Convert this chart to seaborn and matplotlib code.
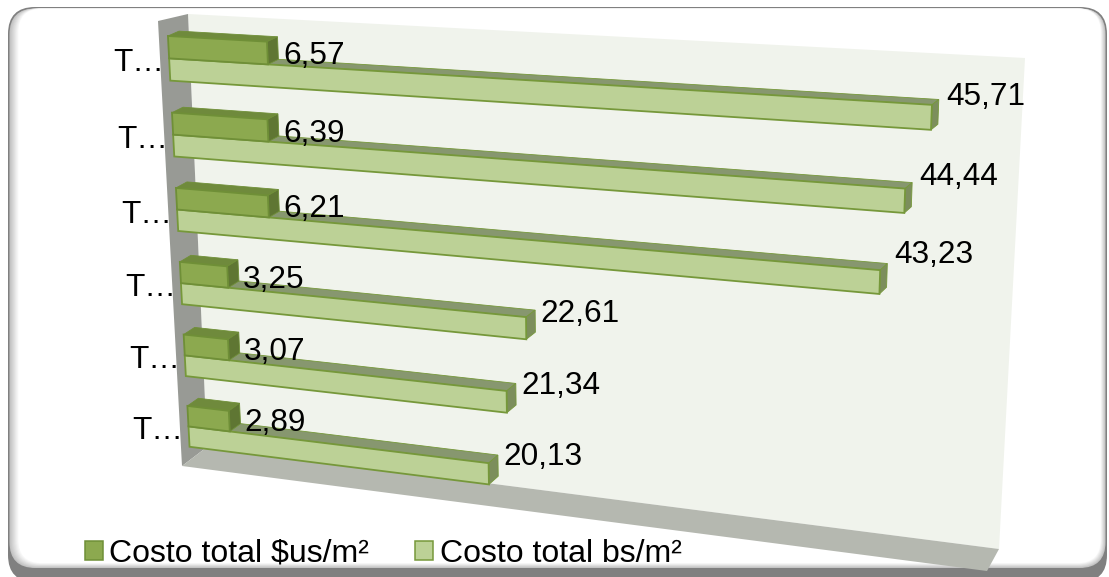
"""
3D style horizontal bars: seaborn draws the bars, a perspective transform
bends them onto the tilted chart plane.
"""
import numpy as np
import pandas as pd
import matplotlib
matplotlib.use("Agg")
import matplotlib.pyplot as plt
import seaborn as sns
from matplotlib.patches import FancyBboxPatch, Polygon
from matplotlib.transforms import IdentityTransform, Transform

W, H = 1109, 577

# -------------------------------------------------------------------------
# Data
TICK_LABELS = ["T…", "T…", "T…", "T…", "T…", "T…"]
ROWS = [0, 1, 2, 3, 4, 5]
COSTO_US = [6.57, 6.39, 6.21, 3.25, 3.07, 2.89]
COSTO_BS = [45.71, 44.44, 43.23, 22.61, 21.34, 20.13]
SERIES = ["Costo total $us/m²", "Costo total bs/m²"]

df = pd.DataFrame({
    "row": ROWS * 2,
    "valor": COSTO_US + COSTO_BS,
    "serie": [SERIES[0]] * 6 + [SERIES[1]] * 6,
})

# face, top, end, edge
COLORS = {
    SERIES[0]: ("#8CA94F", "#6F8A3C", "#5F7633", "#6F8F37"),
    SERIES[1]: ("#BCD196", "#87976F", "#7C8E5C", "#76983A"),
}

# the value labels of the light bars do not sit at a fixed distance
LIGHT_DY = [0, 4, 7, -5, -3, -2]


# -------------------------------------------------------------------------
# Perspective from (value, row) to pixels
def px(x, y):
    return (x, H - y)


def homography(src, dst):
    # least squares fit, more reference points than needed
    A, b = [], []
    for (u, v), (x, y) in zip(src, dst):
        A.append([u, v, 1, 0, 0, 0, -u * x, -v * x])
        A.append([0, 0, 0, u, v, 1, -u * y, -v * y])
        b += [x, y]
    sol = np.linalg.lstsq(np.array(A, float), np.array(b, float), rcond=None)[0]
    return np.append(sol, 1).reshape(3, 3)


class Persp(Transform):
    input_dims = 2
    output_dims = 2
    is_separable = False

    def __init__(self, M):
        super().__init__()
        self.M = M

    def transform_non_affine(self, values):
        v = np.asarray(values, float)
        q = np.c_[v, np.ones(len(v))] @ self.M.T
        return q[:, :2] / q[:, 2:]


# where the line between the two bars of each row falls in the picture
CAL_PIXELS = [
    (169, 59), (268, 63), (932, 105),
    (173, 136), (268, 140), (905, 189),
    (177, 211), (268, 217), (880, 270),
    (182, 284), (229, 287), (527, 317),
    (185, 356), (229, 358), (506, 392),
    (188, 427), (229, 431), (489, 463),
]
cal_src = []
for i in ROWS:
    cal_src += [(0, i), (COSTO_US[i], i), (COSTO_BS[i], i)]
plane = Persp(homography(cal_src, [px(*p) for p in CAL_PIXELS]))


def back(p):
    # depth offset of the bars, shrinks to the right and grows downwards
    p = np.asarray(p, float)
    y_img = H - p[:, 1]
    dx = 12 - 0.0055 * p[:, 0]
    dy = 4.6 + 0.0075 * y_img
    return p + np.c_[dx, dy]


# -------------------------------------------------------------------------
fig = plt.figure(figsize=(W / 100, H / 100), dpi=100, facecolor="white")
plt.rcParams["font.family"] = ["Liberation Sans", "DejaVu Sans"]
ax = fig.add_axes([0, 0, 1, 1])

# Frame, nested round boxes make the soft inner shadow
ax.add_patch(FancyBboxPatch(
    px(8, 582), 1099, 575, boxstyle="round,pad=0,rounding_size=27",
    transform=IdentityTransform(), fc="#808080", lw=0, clip_on=False, zorder=0,
))
n = 9
for k in range(n):
    t = k / (n - 1)
    g = 0.76 + 0.24 * t
    x0, x1 = 9.5 + k * 1.1, 1105.5 - k * 0.6
    y0, y1 = 8.5 + k * 0.02, 568 - k * 0.6
    ax.add_patch(FancyBboxPatch(
        px(x0, y1), x1 - x0, y1 - y0,
        boxstyle="round,pad=0,rounding_size=%.1f" % (26 - k * 0.3),
        transform=IdentityTransform(), fc=(g, g, g), lw=0, clip_on=False, zorder=0,
    ))

# Walls
back_wall = [(188, 14), (1025, 58), (999, 549), (207, 447)]
left_wall = [(158, 21), (188, 14), (207, 447), (182, 466)]
floor = [(182, 466), (207, 447), (999, 549), (987, 571)]
for pts, c in [(back_wall, "#F0F3EC"), (left_wall, "#989A95"), (floor, "#B5B8B0")]:
    ax.add_patch(Polygon([px(*p) for p in pts], transform=IdentityTransform(),
                         fc=c, lw=0, clip_on=False, zorder=0.5))

# Bars
sns.barplot(
    data=df, x="valor", y="row", hue="serie", orient="h", order=ROWS,
    hue_order=SERIES, palette={s: COLORS[s][0] for s in SERIES},
    width=0.58, gap=0, saturation=1, ax=ax,
)

for s, cont in zip(SERIES, ax.containers):
    face, top, end, edge = COLORS[s]
    z = 6 if s == SERIES[0] else 4
    for bar in cont:
        bar.set_transform(plane)
        bar.set_clip_on(False)
        bar.set_edgecolor(edge)
        bar.set_linewidth(1.3)
        bar.set_zorder(z)
        x0, y0 = bar.get_x(), bar.get_y()
        x1, y1 = x0 + bar.get_width(), y0 + bar.get_height()
        front_top = plane.transform(np.array([(x0, min(y0, y1)), (x1, min(y0, y1))]))
        front_end = plane.transform(np.array([(x1, min(y0, y1)), (x1, max(y0, y1))]))
        ax.add_patch(Polygon(np.vstack([front_top, back(front_top)[::-1]]),
                             transform=IdentityTransform(), fc=top, ec=edge, lw=0.6,
                             clip_on=False, zorder=z - 1))
        ax.add_patch(Polygon(np.vstack([front_end, back(front_end)[::-1]]),
                             transform=IdentityTransform(), fc=end, ec=edge, lw=0.6,
                             clip_on=False, zorder=z - 1))

# Labels
FS = 22.7
for i in ROWS:
    ax.annotate(TICK_LABELS[i], (0, i), xycoords=plane, xytext=(-5, -13),
                textcoords="offset pixels", ha="right", va="baseline", fontsize=FS, zorder=8)
    ax.annotate(f"{COSTO_US[i]:.2f}".replace(".", ","), (COSTO_US[i], i), xycoords=plane,
                xytext=(15, 0), textcoords="offset pixels", ha="left", va="baseline",
                fontsize=FS, zorder=8)
    ax.annotate(f"{COSTO_BS[i]:.2f}".replace(".", ","), (COSTO_BS[i], i), xycoords=plane,
                xytext=(14.5, LIGHT_DY[i]), textcoords="offset pixels", ha="left", va="baseline",
                fontsize=FS, zorder=8)

sns.move_legend(
    ax, "lower left", bbox_to_anchor=(85 / W, 1 - 569 / H), ncol=2, frameon=False, title=None,
    fontsize=23, handlelength=0.56, handleheight=0.56, handletextpad=0.2, columnspacing=1.45,
    borderpad=0, borderaxespad=0,
)
for h, s in zip(ax.get_legend().legend_handles, SERIES):
    h.set_edgecolor(COLORS[s][3])
    h.set_linewidth(1.1)

ax.set_axis_off()
fig.savefig("out.png", dpi=100)
